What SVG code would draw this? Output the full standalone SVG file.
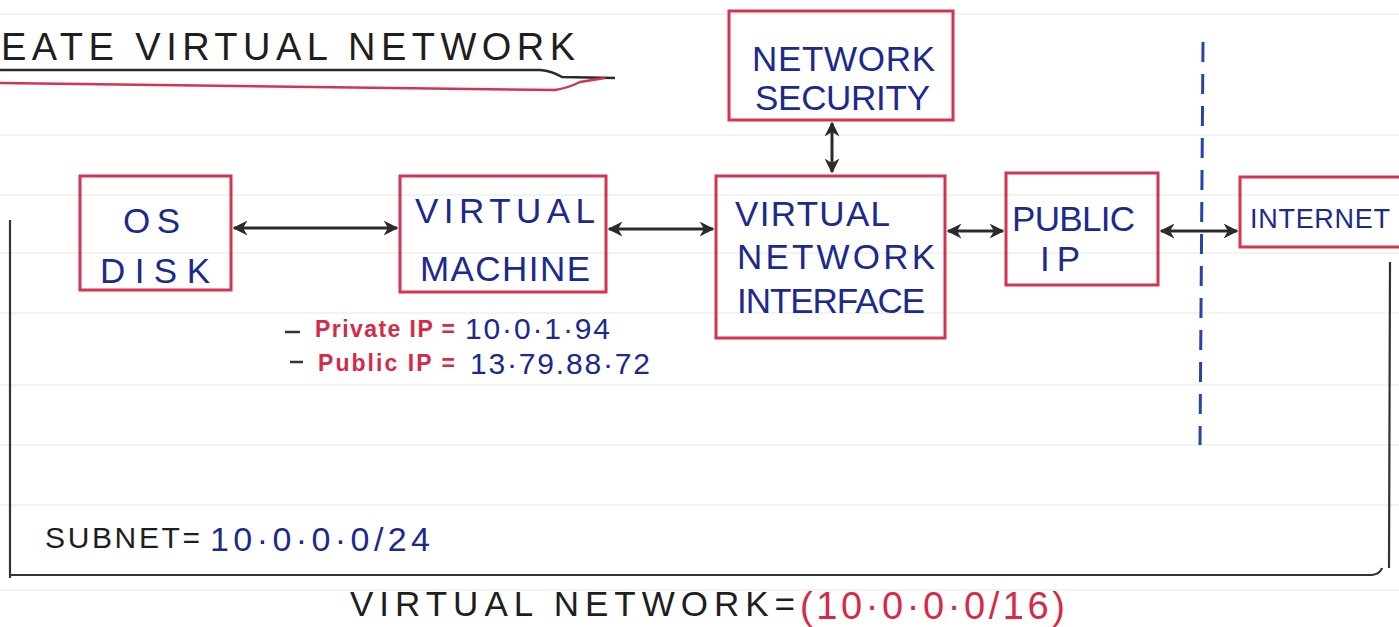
<svg xmlns="http://www.w3.org/2000/svg" width="1399" height="627" viewBox="0 0 1399 627">
<style>
.box{fill:none;stroke:#d4344f;stroke-width:3}
.nt{font-family:"Liberation Sans",Arial,sans-serif;fill:#1b2a8c;font-size:35px}
.bk{font-family:"Liberation Sans",Arial,sans-serif;fill:#1e1e1e}
.rd{font-family:"Liberation Sans",Arial,sans-serif;fill:#d52a48}
.bl{font-family:"Liberation Sans",Arial,sans-serif;fill:#1b2a8c}
.arr{stroke:#2b2b2b;stroke-width:3;fill:none;marker-start:url(#ah);marker-end:url(#ah)}
.rule{stroke:#efefef;stroke-width:1.5}
</style>
<defs>
<marker id="ah" viewBox="0 0 10 10" refX="9" refY="5" markerWidth="5" markerHeight="5" orient="auto-start-reverse" markerUnits="strokeWidth">
<path d="M0,0 L10,5 L0,10 L3,5 z" fill="#2b2b2b"/>
</marker>
</defs>
<rect width="1399" height="627" fill="#ffffff"/>
<g id="ruled-lines">
<line class="rule" x1="0" y1="14" x2="1399" y2="14"/>
<line class="rule" x1="0" y1="135" x2="1399" y2="135"/>
<line class="rule" x1="0" y1="195" x2="1399" y2="195"/>
<line class="rule" x1="0" y1="253" x2="1399" y2="253"/>
<line class="rule" x1="0" y1="313" x2="1399" y2="313"/>
<line class="rule" x1="0" y1="385" x2="1399" y2="385"/>
<line class="rule" x1="0" y1="445" x2="1399" y2="445"/>
<line class="rule" x1="0" y1="505" x2="1399" y2="505"/>
<line class="rule" x1="0" y1="590" x2="1399" y2="590"/>
</g>
<g id="title">
<text class="bk" x="1" y="60" font-size="38" textLength="574" lengthAdjust="spacing">EATE  VIRTUAL  NETWORK</text>
<path d="M0,70 L540,70 Q552,71 562,77 L615,78" fill="none" stroke="#2a2a2a" stroke-width="2.5"/>
<path d="M0,83 L555,90 Q568,88 580,82 L605,78" fill="none" stroke="#d4344f" stroke-width="2.5"/>
</g>
<g id="virtual-network">
<path d="M10,220 L10,578 M10,575 L1372,575 Q1380,574 1382,568 M1390,262 L1389,568" fill="none" stroke="#333" stroke-width="2.2"/>
<text class="bk" x="45" y="548" font-size="30" textLength="155" lengthAdjust="spacing">SUBNET=</text>
<text class="bl" x="210" y="551" font-size="34" textLength="220" lengthAdjust="spacing">10·0·0·0/24</text>
<text class="bk" x="350" y="616" font-size="35" textLength="445" lengthAdjust="spacing">VIRTUAL NETWORK=</text>
<text class="rd" x="800" y="619" font-size="38" textLength="265" lengthAdjust="spacing">(10·0·0·0/16)</text>
</g>
<g id="boundary">
<line x1="1203" y1="42" x2="1200" y2="445" stroke="#2545a5" stroke-width="3" stroke-dasharray="20,12"/>
</g>
<g id="network-security">
<rect class="box" x="729" y="11" width="224" height="109"/>
<text class="nt" x="752" y="71" textLength="183" lengthAdjust="spacing">NETWORK</text>
<text class="nt" x="755" y="110" textLength="175" lengthAdjust="spacing">SECURITY</text>
</g>
<g id="os-disk">
<rect class="box" x="80" y="176" width="151" height="114"/>
<text class="nt" x="123" y="233" textLength="57" lengthAdjust="spacing">OS</text>
<text class="nt" x="100" y="283" textLength="110" lengthAdjust="spacing">DISK</text>
</g>
<g id="virtual-machine">
<rect class="box" x="400" y="176" width="206" height="116"/>
<text class="nt" x="415" y="223" textLength="180" lengthAdjust="spacing">VIRTUAL</text>
<text class="nt" x="420" y="281" textLength="170" lengthAdjust="spacing">MACHINE</text>
</g>
<g id="vm-ips">
<line x1="285" y1="332" x2="300" y2="332" stroke="#333" stroke-width="2.5"/>
<text class="rd" x="315" y="337" font-size="23" font-weight="bold" textLength="140" lengthAdjust="spacing">Private IP =</text>
<text class="bl" x="465" y="339" font-size="30" textLength="145" lengthAdjust="spacing">10·0·1·94</text>
<line x1="290" y1="362" x2="303" y2="362" stroke="#333" stroke-width="2.5"/>
<text class="rd" x="318" y="371" font-size="23" font-weight="bold" textLength="137" lengthAdjust="spacing">Public IP =</text>
<text class="bl" x="470" y="374" font-size="30" textLength="180" lengthAdjust="spacing">13·79.88·72</text>
</g>
<g id="virtual-network-interface">
<rect class="box" x="716" y="176" width="229" height="162"/>
<text class="nt" x="735" y="226" textLength="155" lengthAdjust="spacing">VIRTUAL</text>
<text class="nt" x="737" y="269" textLength="198" lengthAdjust="spacing">NETWORK</text>
<text class="nt" x="737" y="313" textLength="188" lengthAdjust="spacing">INTERFACE</text>
</g>
<g id="public-ip">
<rect class="box" x="1006" y="173" width="152" height="112"/>
<text class="nt" x="1012" y="231" textLength="123" lengthAdjust="spacing">PUBLIC</text>
<text class="nt" x="1040" y="271" textLength="40" lengthAdjust="spacing">IP</text>
</g>
<g id="internet">
<rect class="box" x="1240" y="177" width="165" height="70"/>
<text class="nt" x="1250" y="228" style="font-size:27px" textLength="140" lengthAdjust="spacing">INTERNET</text>
</g>
<g id="connectors">
<line class="arr" x1="234" y1="228" x2="397" y2="228"/>
<line class="arr" x1="609" y1="229" x2="713" y2="229"/>
<line class="arr" x1="948" y1="231" x2="1003" y2="231"/>
<line class="arr" x1="1161" y1="231" x2="1237" y2="231"/>
<line class="arr" x1="832" y1="123" x2="832" y2="172"/>
</g>
</svg>
